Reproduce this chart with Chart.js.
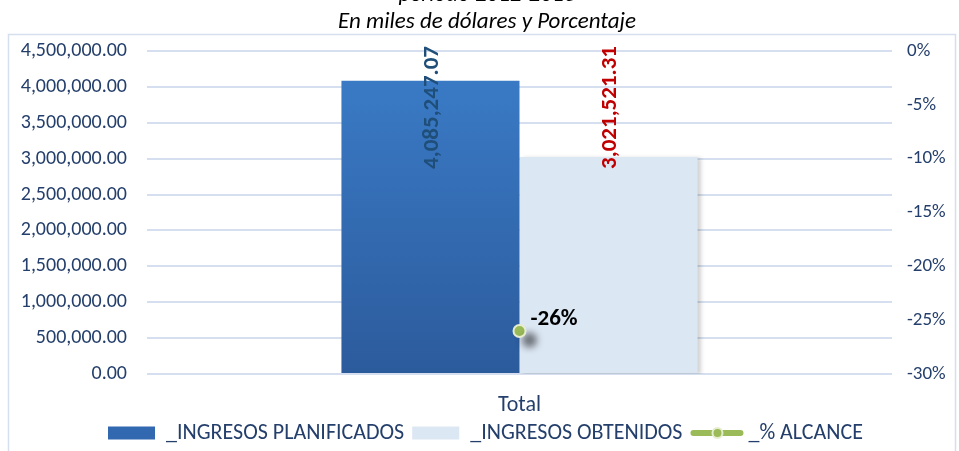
<!DOCTYPE html>
<html>
<head>
<meta charset="utf-8">
<script src="https://cdn.jsdelivr.net/npm/chart.js@4.4.1/dist/chart.umd.min.js"></script>
<style>
  html, body { margin: 0; padding: 0; background: #fff; }
  #wrap { position: relative; width: 959px; height: 451px; overflow: hidden; }
</style>
</head>
<body>
<div id="wrap"><canvas id="chart" width="959" height="451"></canvas></div>
<script>
// ---- data ----
const categories = ['Total']
const seriesNames = ['_INGRESOS PLANIFICADOS', '_INGRESOS OBTENIDOS', '_% ALCANCE']
const planificados = [4085247.07]
const obtenidos = [3021521.31]
const alcance = [-0.26]
const leftTicks = [0, 500000, 1000000, 1500000, 2000000, 2500000, 3000000, 3500000, 4000000, 4500000]
const rightTicks = [-0.30, -0.25, -0.20, -0.15, -0.10, -0.05, 0]
const titleLines = ['periodo 2012-2016', 'En miles de dólares y Porcentaje']

const FONT = 'Carlito, Lato, sans-serif'
const NAVY = '#243F6B'
const GRID = '#D5DFEF'

const fmtMoney = (v) => v.toLocaleString('en-US', { minimumFractionDigits: 2, maximumFractionDigits: 2 })
const fmtPct = (v) => Math.round(v * 100) + '%'

// blue bar gradient, lighter at top
const blueFill = (ctx) => {
  const area = ctx.chart.chartArea
  if (!area) return '#3570B8'
  const g = ctx.chart.ctx.createLinearGradient(0, area.top, 0, area.bottom)
  g.addColorStop(0, '#3B7DC9')
  g.addColorStop(1, '#2C5B9C')
  return g
}

// outer frame + title lines
const framePlugin = {
  id: 'frame',
  beforeDraw(chart) {
    const c = chart.ctx
    c.save()
    c.strokeStyle = GRID
    c.lineWidth = 1.5
    c.strokeRect(8.5, 34.5, 947, 430)
    c.fillStyle = '#000'
    c.textAlign = 'center'
    c.textBaseline = 'alphabetic'
    c.font = `italic 23px ${FONT}`
    c.fillText(titleLines[0], 487, 1)
    c.fillText(titleLines[1], 487, 28)
    c.restore()
  }
}

// soft shadows on bar 2 and the marker
const shadowPlugin = {
  id: 'shadows',
  beforeDatasetDraw(chart, args) {
    const c = chart.ctx
    c.save()
    if (args.index === 2) {
      c.shadowColor = 'rgba(0,0,0,0.5)'
      c.shadowBlur = 7
      c.shadowOffsetX = 10
      c.shadowOffsetY = 9
    } else if (args.index === 1) {
      c.shadowColor = 'rgba(0,0,0,0.18)'
      c.shadowBlur = 4
      c.shadowOffsetX = 3
      c.shadowOffsetY = 1
    }
  },
  afterDatasetDraw(chart) {
    chart.ctx.restore()
  }
}

// value labels (rotated for bars) + legend line symbol
const labelPlugin = {
  id: 'valueLabels',
  afterDatasetsDraw(chart) {
    const c = chart.ctx
    const top = chart.chartArea.top
    const barColors = ['#1F4E79', '#C00000']
    const barData = [planificados, obtenidos]
    c.save()
    c.font = `bold 23px ${FONT}`
    for (let i = 0; i < 2; i++) {
      const bar = chart.getDatasetMeta(i).data[0]
      c.save()
      c.translate(bar.x + 2, top - 5)
      c.rotate(-Math.PI / 2)
      c.fillStyle = barColors[i]
      c.textAlign = 'right'
      c.textBaseline = 'middle'
      c.fillText(fmtMoney(barData[i][0]), 0, 0)
      c.restore()
    }
    const pt = chart.getDatasetMeta(2).data[0]
    c.fillStyle = '#000'
    c.textAlign = 'left'
    c.textBaseline = 'middle'
    c.fillText(fmtPct(alcance[0]), pt.x + 11, pt.y - 12)
    c.restore()
  },
  afterDraw(chart) {
    const box = chart.legend.legendHitBoxes[2]
    if (!box) return
    const c = chart.ctx
    const y = box.top + box.height / 2
    c.save()
    c.strokeStyle = '#9BBB59'
    c.lineWidth = 6
    c.lineCap = 'round'
    c.beginPath()
    c.moveTo(box.left + 3, y)
    c.lineTo(box.left + 50, y)
    c.stroke()
    c.fillStyle = '#9BBB59'
    c.strokeStyle = '#E6EDCF'
    c.lineWidth = 2
    c.beginPath()
    c.arc(box.left + 27, y, 5, 0, Math.PI * 2)
    c.fill()
    c.stroke()
    c.restore()
  }
}

new Chart(document.getElementById('chart'), {
  data: {
    labels: categories,
    datasets: [
      {
        type: 'bar',
        label: seriesNames[0],
        data: planificados,
        backgroundColor: blueFill,
        yAxisID: 'y',
        order: 1,
        categoryPercentage: 0.478,
        barPercentage: 1
      },
      {
        type: 'bar',
        label: seriesNames[1],
        data: obtenidos,
        backgroundColor: '#DCE7F4',
        yAxisID: 'y',
        order: 1,
        categoryPercentage: 0.478,
        barPercentage: 1
      },
      {
        type: 'line',
        label: seriesNames[2],
        data: alcance,
        yAxisID: 'y1',
        order: 0,
        borderColor: '#9BBB59',
        borderWidth: 5,
        pointRadius: 6,
        pointBackgroundColor: '#9BBB59',
        pointBorderColor: '#E6EDCF',
        pointBorderWidth: 2
      }
    ]
  },
  options: {
    responsive: false,
    animation: false,
    layout: { padding: { top: 51, left: 12, right: 0, bottom: -3 } },
    plugins: {
      title: { display: false },
      tooltip: { enabled: false },
      legend: {
        position: 'bottom',
        labels: {
          boxWidth: 47,
          boxHeight: 13,
          padding: 8,
          color: NAVY,
          font: { family: FONT, size: 22 },
          generateLabels(chart) {
            const items = Chart.defaults.plugins.legend.labels.generateLabels(chart)
            items.sort((a, b) => a.datasetIndex - b.datasetIndex)
            items.forEach(it => {
              if (it.datasetIndex === 0) it.fillStyle = '#3268B0'
              if (it.datasetIndex === 1) it.strokeStyle = 'rgba(0,0,0,0)'
              if (it.datasetIndex === 2) {
                it.fillStyle = 'rgba(0,0,0,0)'
                it.strokeStyle = 'rgba(0,0,0,0)'
                it.lineWidth = 0
              }
            })
            return items
          }
        }
      }
    },
    scales: {
      x: {
        grid: { display: false, drawTicks: false },
        border: { display: false },
        ticks: { color: NAVY, font: { family: FONT, size: 22 }, padding: 18 },
        afterFit: (axis) => { axis.height = 40 }
      },
      y: {
        position: 'left',
        min: 0,
        max: 4500000,
        afterBuildTicks: (axis) => { axis.ticks = leftTicks.map(v => ({ value: v })) },
        afterFit: (axis) => { axis.width = 135 },
        grid: { color: GRID, lineWidth: 2, drawTicks: false },
        border: { display: false },
        ticks: { color: NAVY, font: { family: FONT, size: 20 }, padding: 20, callback: (v) => fmtMoney(v) }
      },
      y1: {
        position: 'right',
        min: -0.30,
        max: 0,
        afterBuildTicks: (axis) => { axis.ticks = rightTicks.map(v => ({ value: v })) },
        afterFit: (axis) => { axis.width = 67 },
        grid: { display: false, drawTicks: false },
        border: { display: false },
        ticks: { color: NAVY, font: { family: FONT, size: 19 }, padding: 15, callback: (v) => fmtPct(v) }
      }
    }
  },
  plugins: [framePlugin, shadowPlugin, labelPlugin]
})
</script>
</body>
</html>
